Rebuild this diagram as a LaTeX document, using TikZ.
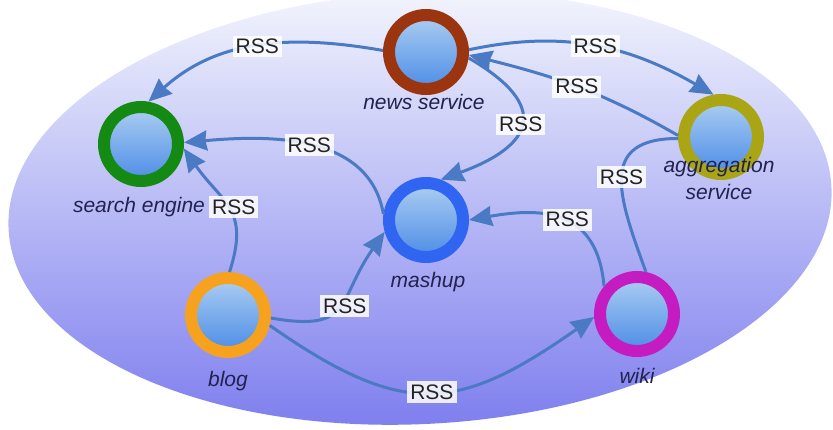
\documentclass[tikz,border=0pt]{standalone}
\usepackage{fontspec}
\setmainfont{Liberation Sans}
\usetikzlibrary{arrows.meta}
\definecolor{rssblue}{RGB}{74,122,196}
\definecolor{tagtext}{RGB}{35,35,35}
\definecolor{navy}{RGB}{34,34,80}
\definecolor{bgtop}{RGB}{245,248,253}
\definecolor{bgbot}{RGB}{124,124,238}
\definecolor{balltop}{RGB}{172,206,242}
\definecolor{ballbot}{RGB}{76,140,230}
\definecolor{newscol}{RGB}{154,53,16}
\definecolor{searchcol}{RGB}{20,138,20}
\definecolor{mashcol}{RGB}{47,101,240}
\definecolor{aggrcol}{RGB}{169,165,20}
\definecolor{blogcol}{RGB}{247,162,31}
\definecolor{wikicol}{RGB}{196,28,192}
\begin{document}
\begin{tikzpicture}[x=1pt, y=1pt,
	hub/.style={circle, draw=#1, line width=12pt, minimum size=74pt, inner sep=0pt, outer sep=6pt, top color=balltop, bottom color=ballbot},
	feed/.style={rssblue, line width=3pt},
	rss/.style={feed, -{Stealth[length=23pt,width=20pt,inset=1.5pt]}},
	tag/.style={fill=white, fill opacity=.85, text opacity=1, text=tagtext, inner xsep=3pt, inner ysep=3.5pt, font=\fontsize{21}{21}\selectfont},
	caption/.style={text=navy, font=\fontsize{21}{27}\selectfont\itshape, align=center, anchor=base}]
	\useasboundingbox (0,0) rectangle (833,429);
	% background
	\shade[top color=bgtop, bottom color=bgbot, rotate around={3:(420,221)}] (420,221) ellipse (412 and 216);
	% services
	\node[hub=newscol] (news) at (426,377) {};
	\node[hub=searchcol] (search) at (141,285) {};
	\node[hub=mashcol] (mashup) at (426,209) {};
	\node[hub=aggrcol] (aggr) at (721,292) {};
	\node[hub=blogcol] (blog) at (228,114) {};
	\node[hub=wikicol] (wiki) at (637,115) {};
	\node[caption] (newslbl) at (424,319) {news service};
	\node[caption] (searchlbl) at (139,216) {search engine};
	\node[caption] (mashlbl) at (428,142) {mashup};
	\node[caption] (aggrlbl) at (719,229) {aggregation\\service};
	\node[caption] (bloglbl) at (228,43) {blog};
	\node[caption] (wikilbl) at (637,46) {wiki};
	% feeds
	\draw[rss] (news.178) to[out=170,in=42] node[tag]{RSS} (search.80);
	\draw[rss] (news.3) to[out=12,in=150] node[tag]{RSS} (aggr.100);
	\draw[rss] (aggr.178) to[out=150,in=-14] node[tag]{RSS} (news.-4);
	\draw[rss] (news.-8) to[out=-30,in=20,looseness=2] node[tag]{RSS} (mashup.70);
	\draw[rss] (mashup.172) to[out=100,in=5] node[tag]{RSS} (search.2);
	\draw[rss] (blog.88) to[out=72,in=-55,looseness=1.3] node[tag,xshift=5pt]{RSS} (search.-6);
	\draw[rss] (blog.-4) to[out=-10,in=-125,looseness=1.5] node[tag,xshift=4pt]{RSS} (mashup.196);
	\draw[rss] (blog.-14) to[out=-35,in=-145,looseness=1.3] node[tag]{RSS} (wiki.184);
	\draw[rss] (wiki.140) to[out=95,in=10,looseness=1.3] node[tag,xshift=5pt]{RSS} (mashup.0);
	\draw[feed] (aggr.182) to[out=180,in=110,looseness=1.5] node[tag]{RSS} (wiki.78);
\end{tikzpicture}
\end{document}
